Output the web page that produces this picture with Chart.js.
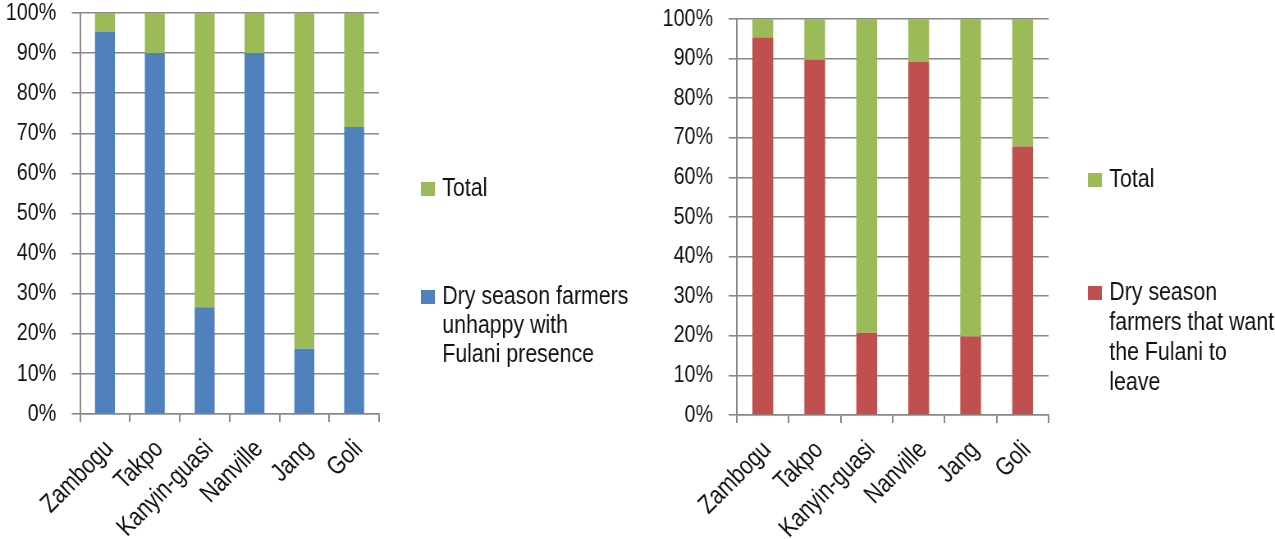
<!DOCTYPE html>
<html>
<head>
<meta charset="utf-8">
<script src="https://cdn.jsdelivr.net/npm/chart.js@4.4.0/dist/chart.umd.min.js"></script>
<style>
  html, body { margin: 0; padding: 0; background: #ffffff; }
  body { width: 1275px; height: 539px; position: relative; overflow: hidden; }
  .wrap { position: absolute; top: 0; transform-origin: 0 0; }
  #w1 { left: 0; transform: scaleX(0.82051); }
  #w2 { left: 640px; transform: scaleX(0.82041); }
  canvas { display: block; }
</style>
</head>
<body>
<div class="wrap" id="w1"><canvas id="c1" width="780" height="539"></canvas></div>
<div class="wrap" id="w2"><canvas id="c2" width="774" height="539"></canvas></div>
<script>
// ---- data ----
const categories = ['Zambogu', 'Takpo', 'Kanyin-guasi', 'Nanville', 'Jang', 'Goli'];
const unhappyValues = [95.3, 90.0, 26.6, 90.0, 16.3, 71.6];
const unhappyTotalValues = [4.7, 10.0, 73.4, 10.0, 83.7, 28.4];
const leaveValues = [95.3, 89.7, 20.8, 89.2, 19.8, 67.8];
const leaveTotalValues = [4.7, 10.3, 79.2, 10.8, 80.2, 32.2];
const totalLabel = 'Total';
const unhappyLabel = ['Dry season farmers', 'unhappy with', 'Fulani presence'];
const leaveLabel = ['Dry season', 'farmers that want', 'the Fulani to', 'leave'];

const BLUE = '#4F81BD', GREEN = '#9BBB59', RED = '#C0504D';
const GRID = '#888888';
const FONT_FAMILY = "'Liberation Sans', Arial, sans-serif";
const SQUEEZE = 0.8205; // horizontal CSS squeeze that gives a narrow typeface look

const legendPlugin = {
  id: 'sideLegend',
  afterDraw(chart, args, opts) {
    const ctx = chart.ctx;
    ctx.save();
    ctx.font = opts.fontSize + 'px ' + FONT_FAMILY;
    ctx.textBaseline = 'middle';
    ctx.textAlign = 'left';
    opts.items.forEach(it => {
      ctx.fillStyle = it.color;
      ctx.fillRect(it.boxX, it.boxY, it.boxW, 14);
      ctx.fillStyle = '#111';
      const lines = Array.isArray(it.text) ? it.text : [it.text];
      lines.forEach((l, i) => ctx.fillText(l, it.textX, it.lineY + i * it.lineH));
    });
    ctx.restore();
  }
};

// keep rotated category labels upright-narrow (no shear) under the horizontal squeeze
const narrowRotatedLabels = {
  id: 'narrowRotatedLabels',
  beforeDraw(chart) {
    const sc = chart.scales.x;
    if (sc._narrowWrapped) return;
    const orig = sc.drawLabels;
    sc.drawLabels = function (area) {
      const ctx = this.ctx;
      const protoRotate = CanvasRenderingContext2D.prototype.rotate;
      ctx.rotate = function (a) {
        this.scale(1 / SQUEEZE, 1);
        protoRotate.call(this, a);
        this.scale(SQUEEZE, 1);
      };
      try { orig.call(this, area); } finally { delete ctx.rotate; }
    };
    sc._narrowWrapped = true;
  }
};

function makeChart(id, lowLabel, lowValues, lowColor, totalValues, opt) {
  return new Chart(document.getElementById(id), {
    type: 'bar',
    data: {
      labels: categories,
      datasets: [
        { label: lowLabel.join(' '), data: lowValues, backgroundColor: lowColor,
          barPercentage: 0.4, categoryPercentage: 1.0 },
        { label: totalLabel, data: totalValues, backgroundColor: GREEN,
          barPercentage: 0.4, categoryPercentage: 1.0 }
      ]
    },
    options: {
      responsive: false,
      animation: false,
      devicePixelRatio: 1,
      layout: { padding: { top: opt.top, right: opt.right, left: 0, bottom: 0 } },
      plugins: {
        legend: { display: false },
        tooltip: { enabled: false },
        sideLegend: { fontSize: 26, items: opt.legend }
      },
      scales: {
        x: {
          stacked: true,
          offset: true,
          grid: { display: true, drawOnChartArea: false, drawTicks: true, tickLength: 8,
                  color: GRID, lineWidth: 2, offset: true },
          border: { display: true, color: GRID, width: 1.6 },
          ticks: { color: '#111', font: { family: FONT_FAMILY, size: 26 },
                   maxRotation: 45, minRotation: 45, padding: 12, labelOffset: 3,
                   autoSkip: false },
          afterFit: s => { s.height = opt.xHeight; s.paddingLeft = 0; s.paddingRight = 0; }
        },
        y: {
          stacked: true,
          min: 0, max: 100,
          grid: { color: GRID, lineWidth: 1.6, drawTicks: true, tickLength: 10 },
          border: { display: true, color: GRID, width: 2 },
          ticks: { stepSize: 10, color: '#111', padding: 19,
                   font: { family: FONT_FAMILY, size: 24 },
                   callback: v => v + '%' },
          afterFit: s => { s.width = opt.yWidth; s.paddingTop = 0; s.paddingBottom = 0; }
        }
      }
    },
    plugins: [legendPlugin, narrowRotatedLabels]
  });
}

makeChart('c1', unhappyLabel, unhappyValues, BLUE, unhappyTotalValues, {
  top: 13, right: 318, xHeight: 125, yWidth: 97.5,
  legend: [
    { color: GREEN, boxX: 513, boxY: 182, boxW: 17, textX: 539, lineY: 189, lineH: 29, text: totalLabel },
    { color: BLUE, boxX: 513, boxY: 290, boxW: 17, textX: 539, lineY: 297, lineH: 29, text: unhappyLabel }
  ]
});

makeChart('c2', leaveLabel, leaveValues, RED, leaveTotalValues, {
  top: 19, right: 276, xHeight: 124, yWidth: 118,
  legend: [
    { color: GREEN, boxX: 546, boxY: 173, boxW: 17, textX: 572, lineY: 180, lineH: 30, text: totalLabel },
    { color: RED, boxX: 546, boxY: 286, boxW: 17, textX: 572, lineY: 293, lineH: 30, text: leaveLabel }
  ]
});
</script>
</body>
</html>
